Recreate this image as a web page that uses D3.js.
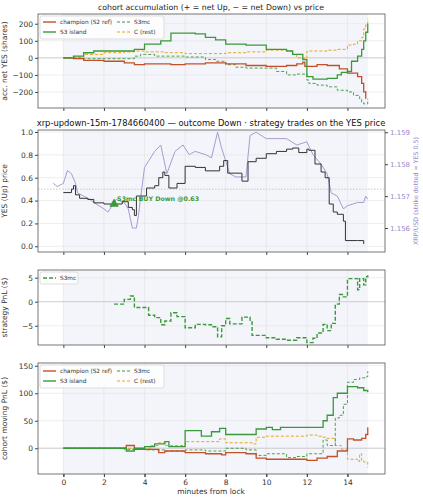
<!DOCTYPE html>
<html><head><meta charset="utf-8">
<script src="https://cdn.jsdelivr.net/npm/d3@7"></script>
<style>body{margin:0;background:#fff}text{font-family:"DejaVu Sans",sans-serif}</style>
</head><body><svg id="c" width="423" height="500"></svg>
<script>
// ---- data ----
const accChampion=[[0,0],[0.5,-5],[1,-15],[2,-20],[3,-30],[3.5,-40],[4,-35],[5,-35],[5.3,-40],[6,-35],[7,-30],[8,-35],[9,-45],[10,-50],[11,-45],[11.5,-35],[11.8,-25],[11.9,-50],[12.5,-40],[13,-45],[13.6,-65],[14,-90],[14.5,-110],[14.7,-150],[14.8,-200],[14.9,-240]];
const accIsland=[[0,0],[0.5,10],[1,30],[1.5,40],[3,40],[3.5,50],[4,80],[4.8,100],[5.3,145],[6.5,140],[7,120],[7.5,105],[8,80],[9,75],[10,50],[11,40],[11.3,20],[11.8,-10],[12,-110],[12.3,-125],[13,-120],[13.5,-100],[13.7,-85],[14,-80],[14.2,-20],[14.5,10],[14.7,50],[14.8,100],[14.9,150],[15,200]];
const accS3mc=[[0,0],[1,-5],[2,-5],[3,-5],[3.5,10],[3.8,20],[4,20],[4.5,10],[5,10],[6,5],[7,-10],[7.5,-20],[8,-40],[8.5,-55],[9,-60],[10,-60],[10.5,-80],[11,-100],[11.5,-95],[12,-130],[12.1,-150],[12.5,-160],[13,-170],[13.5,-190],[14,-200],[14.3,-220],[14.6,-240],[14.7,-260],[14.8,-270],[15,-240]];
const accRest=[[0,0],[0.5,5],[1,20],[2,30],[3,35],[3.5,40],[4,35],[5,30],[6,25],[7,25],[8,30],[9,35],[10,45],[11,40],[11.3,20],[11.5,0],[11.9,-5],[12,40],[12.5,40],[13,45],[13.5,50],[14,75],[14.3,80],[14.5,100],[14.7,120],[14.8,170],[14.9,200],[15,230]];
const yesPrice=[[0,0.47],[0.4,0.5],[0.5,0.53],[0.6,0.45],[0.8,0.42],[1.2,0.41],[1.5,0.38],[2,0.37],[2.9,0.39],[3.2,0.34],[3.4,0.32],[3.5,0.27],[3.6,0.44],[4.1,0.51],[4.5,0.53],[4.7,0.6],[4.9,0.65],[5.0,0.62],[5.2,0.51],[5.6,0.55],[6.0,0.7],[6.5,0.69],[7,0.66],[7.7,0.7],[7.9,0.75],[8.1,0.64],[8.8,0.57],[9.1,0.74],[9.5,0.77],[10,0.81],[10.5,0.83],[11,0.85],[11.3,0.86],[11.6,0.82],[12,0.85],[12.1,0.84],[12.4,0.72],[12.7,0.65],[12.9,0.6],[13.1,0.37],[13.3,0.3],[13.5,0.28],[13.8,0.22],[13.9,0.05],[14.5,0.05],[14.8,0.02]];
const xrpUsd=[[-0.5,1.1574],[-0.3,1.1573],[0,1.1574],[0.2,1.1578],[0.4,1.1577],[0.6,1.1574],[0.7,1.1571],[1.0,1.1570],[1.3,1.1569],[1.5,1.1568],[2,1.1566],[2.2,1.1565],[2.4,1.1567],[2.6,1.1569],[3,1.1568],[3.2,1.1566],[3.4,1.1560],[3.6,1.1560],[3.7,1.1564],[4,1.1579],[4.2,1.1581],[4.5,1.1584],[4.8,1.1586],[5,1.1580],[5.1,1.1577],[5.5,1.1584],[5.9,1.1586],[6.2,1.1583],[6.5,1.1584],[7,1.1583],[7.3,1.1582],[7.6,1.1590],[7.8,1.1585],[8.2,1.1577],[8.5,1.1576],[9,1.1576],[9.2,1.1589],[9.5,1.1590],[10,1.1588],[10.5,1.1588],[11,1.1588],[11.5,1.1586],[12,1.1587],[12.3,1.1583],[12.7,1.1580],[13,1.1577],[13.2,1.1571],[13.5,1.1570],[13.8,1.1566],[14,1.1567],[14.5,1.1568],[14.8,1.1568],[14.9,1.1570],[15,1.1569]];
const trade={t:2.5,p:0.37,label:"S3mc BUY Down @0.63"};
const stratPnl=[[2.5,-0.5],[2.8,-0.5],[3,0.5],[3.3,1.2],[3.5,-1.2],[4.2,-2.8],[4.5,-3.3],[4.8,-4.8],[5.0,-4],[5.3,-2.3],[5.6,-3.1],[6,-5.4],[6.5,-4.7],[7,-4.8],[7.3,-5.2],[7.6,-7.3],[7.8,-5],[8,-3.5],[8.2,-4.6],[8.8,-3.2],[9.2,-4.2],[9.3,-7],[10,-7.5],[10.5,-7.8],[11,-8],[11.5,-7.5],[12,-8.5],[12.3,-7.6],[12.5,-6.5],[12.8,-4.7],[13,-6],[13.2,-4.5],[13.4,-0.5],[13.6,1.5],[13.8,1],[14,4.8],[14.5,2.5],[14.6,4.8],[14.8,3.5],[14.9,5.2],[15,5.5]];
const pnlChampion=[[0,0],[3,0],[3.1,5],[3.5,-2],[4.7,-8],[5,-5],[6,-8],[7,-10],[7.8,-12],[8,-8],[9,-10],[9.5,-18],[10,-20],[12,-22],[12.5,-18],[13,-15],[13.5,-5],[14,17],[14.3,15],[14.7,18],[14.9,25],[15,38]];
const pnlIsland=[[0,0],[3,0],[3.1,-5],[3.5,0],[4,3],[4.5,8],[5,12],[5.2,3],[6,32],[6.8,22],[7.3,30],[7.7,36],[8,25],[9.5,35],[10,38],[10.3,34],[10.7,38],[12.8,50],[13,60],[13.3,92],[13.5,100],[14,112],[14.5,110],[14.8,105],[15,102]];
const pnlS3mc=[[0,0],[3,-2],[4,-3],[5,-5],[6,-3],[7,-5],[8,0],[9,-3],[9.5,-13],[10,-10],[11,-17],[11.5,-15],[12,-10],[12.8,15],[13,5],[13.4,55],[13.6,60],[13.8,80],[14,120],[14.3,125],[14.6,128],[14.9,130],[15,140]];
const pnlRest=[[0,0],[4,0],[4.3,5],[4.7,10],[5,5],[6,12],[7.7,17],[8,10],[9.3,8],[9.5,20],[10,22],[12,24],[12.5,22],[12.8,20],[13,18],[13.4,5],[13.7,-2],[14,-20],[14.5,-24],[14.6,-10],[14.7,-22],[14.8,-25],[15,-35]];
const xTicks=[0,2,4,6,8,10,12,14];
const cohortNames=["champion (S2 ref)","S3 island","S3mc","C (rest)"];
// ---- drawing ----
const C={red:"#c4502a",green:"#3a9a3a",orange:"#e6a817",purple:"#a99bd0"};
const svg=d3.select("#c");
const x=d3.scaleLinear().domain([-1.25,15.85]).range([38,385]);
const fmtInt=v=>(v<0?"−":"")+Math.abs(v);
function panel(top,bot,dom,ticks,fmt,ylabel){
  const y=d3.scaleLinear().domain(dom).range([bot,top]);
  svg.append("rect").attr("x",x(0)).attr("y",top).attr("width",x(15)-x(0)).attr("height",bot-top).attr("fill","#f3f5fa");
  const g=svg.append("g");
  xTicks.forEach(t=>g.append("line").attr("x1",x(t)).attr("x2",x(t)).attr("y1",top).attr("y2",bot).attr("stroke","#e2e2e2").attr("stroke-width",0.6));
  ticks.forEach(t=>g.append("line").attr("x1",38).attr("x2",385).attr("y1",y(t)).attr("y2",y(t)).attr("stroke","#e2e2e2").attr("stroke-width",0.6));
  const ya=svg.append("g").attr("transform","translate(38,0)").call(d3.axisLeft(y).tickValues(ticks).tickFormat(fmt).tickSize(3).tickPadding(2));
  const xa=svg.append("g").attr("transform",`translate(0,${bot})`).call(d3.axisBottom(x).tickValues(xTicks).tickFormat("").tickSize(3));
  [ya,xa].forEach(a=>{a.select(".domain").remove();a.selectAll("text").attr("font-size",7.5).attr("fill","#333");a.selectAll("line").attr("stroke","#444");});
  svg.append("text").attr("transform",`translate(7,${(top+bot)/2}) rotate(-90)`).attr("text-anchor","middle").attr("font-size",7.5).attr("fill","#333").text(ylabel);
  return {y,top,bot,frame:()=>svg.append("rect").attr("x",38).attr("y",top).attr("width",347).attr("height",bot-top).attr("fill","none").attr("stroke","#555").attr("stroke-width",0.8)};
}
function stepLine(data,y,color,w,dash){
  svg.append("path").datum(data).attr("d",d3.line().x(d=>x(d[0])).y(d=>y(d[1])).curve(d3.curveStepAfter))
   .attr("fill","none").attr("stroke",color).attr("stroke-width",w).attr("stroke-dasharray",dash||null);
}
function legend(x0,y0,items,cols){
  const g=svg.append("g");
  g.append("rect").attr("x",x0).attr("y",y0).attr("width",cols==2?124:38).attr("height",cols==2?23:12).attr("fill","#fff").attr("fill-opacity",0.8).attr("stroke","#ddd").attr("rx",2);
  items.forEach((it,i)=>{const cx=x0+3+(cols==2?(i%2)*74:0),cy=y0+6+(cols==2?Math.floor(i/2)*10:0);
   g.append("line").attr("x1",cx).attr("x2",cx+13).attr("y1",cy).attr("y2",cy).attr("stroke",it.c).attr("stroke-width",it.w).attr("stroke-dasharray",it.d||null);
   g.append("text").attr("x",cx+17).attr("y",cy+2.2).attr("font-size",5.8).attr("fill","#333").text(it.n);});
}
// titles
svg.append("text").attr("x",211).attr("y",10).attr("text-anchor","middle").attr("font-size",7.8).attr("fill","#222").text("cohort accumulation (+ = net Up, − = net Down) vs price");
svg.append("text").attr("x",211).attr("y",126).attr("text-anchor","middle").attr("font-size",8.4).attr("fill","#111").text("xrp-updown-15m-1784660400 — outcome Down · strategy trades on the YES price");
// panel 1
const p1=panel(14,108,[-294,257],[-200,-100,0,100,200],fmtInt,"acc. net YES (shares)");
svg.append("line").attr("x1",38).attr("x2",385).attr("y1",p1.y(0)).attr("y2",p1.y(0)).attr("stroke","#bbb").attr("stroke-width",0.6);
stepLine(accRest,p1.y,C.orange,1,"3,2");stepLine(accS3mc,p1.y,C.green,0.9,"3,2");
stepLine(accChampion,p1.y,C.red,1.3);stepLine(accIsland,p1.y,C.green,1.3);
p1.frame();
const legItems=[{n:cohortNames[0],c:C.red,w:1.4},{n:cohortNames[2],c:C.green,w:1,d:"3,2"},{n:cohortNames[1],c:C.green,w:1.4},{n:cohortNames[3],c:C.orange,w:1,d:"3,2"}];
legend(40,16,legItems,2);
// panel 2
const p2=panel(130,252,[-0.05,1.0175],[0,0.2,0.4,0.6,0.8,1.0],d3.format(".1f"),"YES (Up) price");
const yr=d3.scaleLinear().domain([1.15525,1.15907]).range([252,130]);
const ra=svg.append("g").attr("transform","translate(385,0)").call(d3.axisRight(yr).tickValues([1.156,1.157,1.158,1.159]).tickFormat(d3.format(".3f")).tickSize(3).tickPadding(2));
ra.select(".domain").remove();ra.selectAll("text").attr("font-size",7).attr("fill","#9a88c8");ra.selectAll("line").attr("stroke","#444");
svg.append("text").attr("transform",`translate(418,191) rotate(-90)`).attr("text-anchor","middle").attr("font-size",6.3).attr("fill","#9a88c8").text("XRP/USD (strike dotted = YES 0.5)");
svg.append("line").attr("x1",38).attr("x2",385).attr("y1",p2.y(0.5)).attr("y2",p2.y(0.5)).attr("stroke","#bbb").attr("stroke-dasharray","1.5,1.5").attr("stroke-width",0.8);
svg.append("path").datum(xrpUsd).attr("d",d3.line().x(d=>x(d[0])).y(d=>yr(d[1]))).attr("fill","none").attr("stroke",C.purple).attr("stroke-width",1);
stepLine(yesPrice,p2.y,"#333",1);
svg.append("path").attr("d",d3.symbol(d3.symbolTriangle,40)()).attr("transform",`translate(${x(trade.t)},${p2.y(trade.p)})`).attr("fill",C.green);
svg.append("text").attr("x",x(trade.t)+3).attr("y",p2.y(trade.p)-3).attr("font-size",6.3).attr("font-weight","bold").attr("fill",C.green).text(trade.label);
p2.frame();
// panel 3
const p3=panel(270,345,[-9.0,6.6],[-5,0,5],fmtInt,"strategy PnL ($)");
svg.append("line").attr("x1",38).attr("x2",385).attr("y1",p3.y(0)).attr("y2",p3.y(0)).attr("stroke","#bbb").attr("stroke-width",0.6);
stepLine(stratPnl,p3.y,C.green,1.4,"4,2");
p3.frame();
legend(40,272,[{n:"S3mc",c:C.green,w:1.5,d:"4,2"}],1);
// panel 4
const p4=panel(363,474,[-46.8,155],[0,50,100,150],fmtInt,"cohort moving PnL ($)");
svg.append("line").attr("x1",38).attr("x2",385).attr("y1",p4.y(0)).attr("y2",p4.y(0)).attr("stroke","#bbb").attr("stroke-width",0.6);
stepLine(pnlRest,p4.y,C.orange,1,"3,2");stepLine(pnlS3mc,p4.y,C.green,0.9,"3,2");
stepLine(pnlChampion,p4.y,C.red,1.3);stepLine(pnlIsland,p4.y,C.green,1.3);
p4.frame();
legend(40,365,legItems,2);
const xl=svg.append("g").attr("transform","translate(0,474)").call(d3.axisBottom(x).tickValues(xTicks).tickFormat(d3.format("d")).tickSize(3));
xl.select(".domain").remove();xl.selectAll("text").attr("font-size",7.5).attr("fill","#333");xl.selectAll("line").attr("stroke","#444");
svg.append("text").attr("x",211).attr("y",494).attr("text-anchor","middle").attr("font-size",7.5).attr("fill","#333").text("minutes from lock");
</script></body></html>
